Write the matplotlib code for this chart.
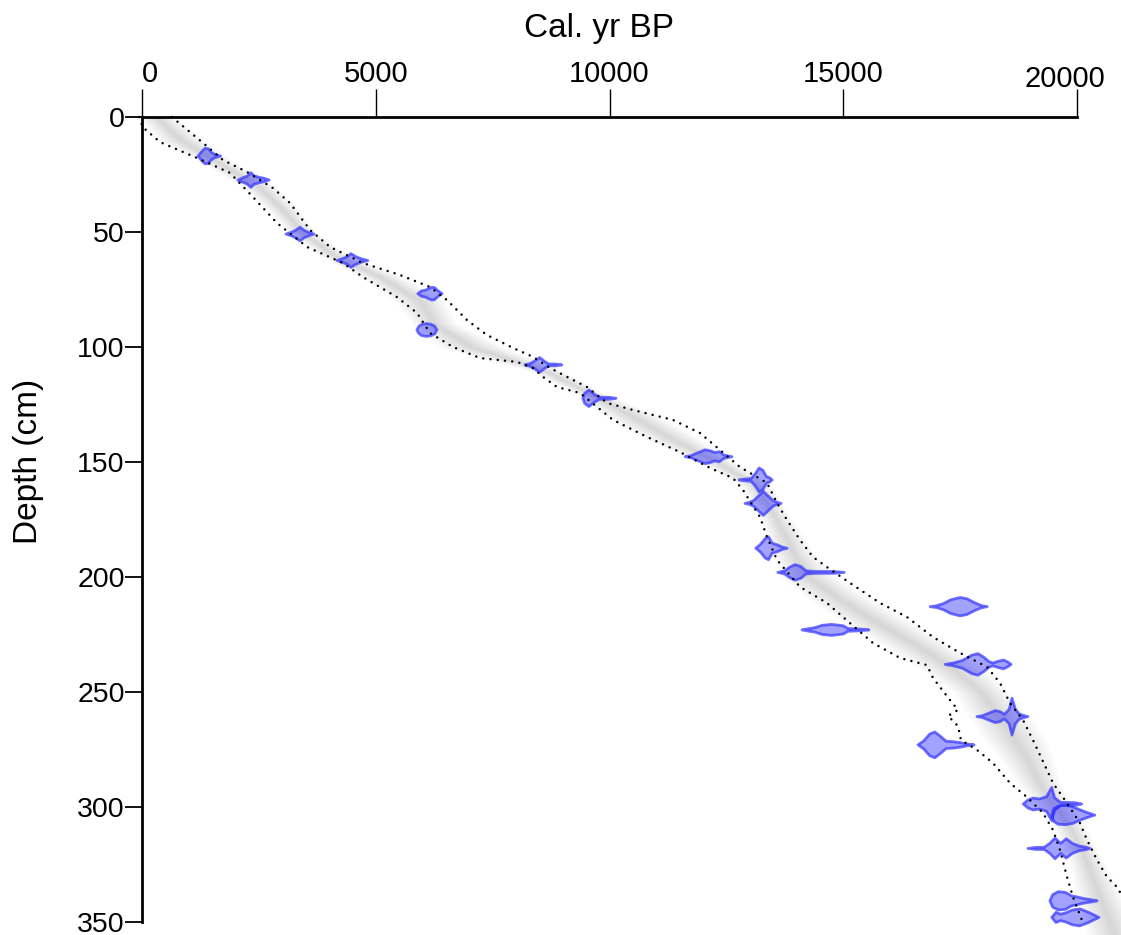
import numpy as np
import matplotlib
matplotlib.use("Agg")
import matplotlib.pyplot as plt
from matplotlib.transforms import blended_transform_factory

plt.rcParams["font.family"] = ["Liberation Sans", "DejaVu Sans"]

# ---- age-depth model: 95% range (dotted) ----
old_bound_age = [640, 770, 1283, 1733, 2246, 2802, 3166, 3594, 4021, 4727, 5519, 6160, 6524,
                 6952, 7380, 7936, 8364, 8727, 9091, 9519, 9947, 10503, 11358, 11936, 12364,
                 12792, 13369, 13583, 13797, 14075, 14353, 14652, 15144, 15786, 16363, 16919,
                 17497, 18075, 18353, 18567, 18845, 19058, 19358, 19486, 19786, 20064, 20214,
                 20428, 20642, 20856, 21350]
old_bound_depth = [0, 2.2, 10.9, 18.7, 23.9, 30.9, 37.4, 49.1, 56.5, 63.5, 68.7, 73.9, 79.6,
                   88.3, 94.8, 100.4, 104.3, 109.1, 113.0, 117.4, 124.3, 127.4, 131.7, 137.4, 144.8,
                   152.2, 159.1, 167.8, 175.2, 183.9, 191.3, 195.7, 202.6, 211.3, 217.4, 226.1,
                   233.0, 239.1, 246.1, 254.8, 262.2, 270.9, 283.9, 289.6, 298.3, 307.0, 314.3,
                   323.0, 330.4, 334.8, 352.0]

young_bound_age = [-60, 20, 385, 1176, 1882, 2374, 2888, 3529, 4299, 4727, 5454, 5882, 6160,
                   6652, 7230, 8021, 8364, 8578, 8877, 9369, 10075, 10802, 11508, 12150, 12642,
                   12856, 13219, 13369, 13583, 14075, 14652, 14994, 15636, 16214, 16791, 16920,
                   17283, 17454, 17240, 17454, 17518, 17860, 18203, 18567, 18930, 19272, 19486,
                   19636, 19786, 19914, 20128]
young_bound_depth = [0, 4.5, 10.9, 17.8, 24.3, 34.8, 46.1, 56.5, 63.5, 69.6, 78.3, 85.2, 93.9,
                     100.0, 104.8, 106.5, 109.1, 113.0, 117.4, 120.0, 131.7, 139.1, 145.7, 152.6, 157.0,
                     162.2, 173.9, 182.6, 192.6, 204.3, 211.3, 217.4, 228.7, 235.2, 238.3, 243.9,
                     253.5, 257.8, 260.4, 264.8, 270.9, 275.2, 280.9, 289.6, 295.7, 302.6, 310.0,
                     318.7, 330.4, 339.1, 350.4]

# ---- model cloud: central age and spread by depth ----
model_depth = [0, 10, 20, 30, 40, 50, 60, 70, 80, 90, 100, 110, 120, 130, 140, 150, 160, 170,
               180, 190, 200, 210, 220, 230, 240, 250, 260, 270, 280, 290, 300, 310, 320, 330,
               340, 350, 356]
model_age = [300, 840, 1650, 2480, 3000, 3420, 4100, 5150, 5950, 6250, 7050, 8600, 9560, 10480,
             11350, 12300, 13120, 13430, 13700, 13950, 14250, 14950, 15750, 16600, 17350, 17950,
             18300, 18650, 18950, 19200, 19550, 19880, 20130, 20320, 20500, 20700, 20800]
model_spread = [170, 220, 160, 170, 160, 130, 150, 210, 250, 220, 320, 160, 140, 270, 270, 170,
                160, 140, 170, 200, 280, 310, 340, 330, 320, 270, 300, 310, 260, 210, 170, 160,
                160, 190, 230, 260, 270]

# ---- calibrated dates: depth and probability outline (age, half-height in cm) ----
date_depths = [17.0, 27.4, 50.9, 62.4, 76.8, 92.6, 107.8, 122.3, 147.7, 157.8, 168.0, 187.5,
               198.0, 212.9, 223.0, 238.0, 260.7, 273.0, 298.7, 303.5, 318.0, 340.8, 348.0]
date_ages = [
    [1200, 1280, 1350, 1420, 1480, 1560, 1680],
    [2050, 2150, 2250, 2330, 2400, 2500, 2600, 2720],
    [3080, 3200, 3300, 3380, 3460, 3560, 3680],
    [4170, 4300, 4400, 4470, 4560, 4680, 4830],
    [5900, 5980, 6060, 6130, 6200, 6260, 6320, 6420],
    [5880, 5920, 5980, 6080, 6180, 6260, 6310],
    [8190, 8300, 8400, 8510, 8620, 8700, 8850, 8980],
    [9430, 9470, 9560, 9680, 9780, 10000, 10140],
    [11620, 11750, 11850, 11950, 12040, 12150, 12250, 12350, 12450, 12620],
    [12770, 12900, 13030, 13120, 13200, 13280, 13360, 13420, 13480],
    [12900, 13000, 13080, 13290, 13500, 13580, 13670],
    [13130, 13230, 13330, 13400, 13480, 13600, 13700, 13800],
    [13600, 13750, 13850, 13970, 14100, 14200, 14400, 14800, 15020],
    [16860, 17000, 17150, 17300, 17500, 17650, 17800, 17950, 18080],
    [14120, 14250, 14400, 14550, 14750, 15000, 15100, 15350, 15550],
    [17180, 17350, 17550, 17750, 17880, 18000, 18120, 18200, 18320, 18430, 18520, 18590],
    [17860, 17980, 18100, 18250, 18350, 18450, 18550, 18610, 18680, 18760, 18850, 18950],
    [16600, 16720, 16850, 16960, 17080, 17200, 17350, 17500, 17650, 17800],
    [18850, 18950, 19060, 19200, 19350, 19460, 19520, 19650, 19950, 20100],
    [19460, 19500, 19600, 19750, 19900, 20050, 20200, 20380],
    [18950, 19100, 19300, 19420, 19530, 19650, 19770, 19900, 20050, 20200, 20280],
    [19420, 19480, 19600, 19750, 19880, 20000, 20150, 20300, 20430],
    [19460, 19550, 19650, 19760, 19900, 20060, 20250, 20470],
]
date_halfheights = [
    [0, 2.0, 3.4, 3.2, 1.7, 0.7, 0],
    [0, 0.9, 1.7, 3.2, 1.8, 1.2, 0.8, 0],
    [0, 0.8, 1.8, 3.0, 1.7, 0.8, 0],
    [0, 0.9, 1.8, 3.0, 1.8, 0.8, 0],
    [0, 1.2, 1.5, 2.2, 2.8, 2.6, 1.4, 0],
    [0, 1.5, 2.4, 2.8, 2.5, 1.7, 0],
    [0, 0.6, 1.7, 3.2, 1.4, 0.4, 0.4, 0],
    [0, 2.2, 3.6, 1.7, 0.5, 0.4, 0],
    [0, 0.5, 1.4, 2.2, 3.0, 2.6, 1.8, 2.2, 0.7, 0],
    [0, 0.4, 0.6, 2.7, 5.2, 4.2, 1.4, 1.0, 0],
    [0, 0.5, 1.2, 5.2, 1.2, 0.5, 0],
    [0, 1.7, 4.2, 5.0, 2.2, 1.4, 0.5, 0],
    [0, 0.7, 2.2, 3.4, 2.5, 0.7, 0.4, 0.4, 0],
    [0, 0.4, 1.4, 3.0, 4.0, 3.4, 1.8, 0.5, 0],
    [0, 0.5, 1.0, 2.0, 2.4, 1.8, 0.6, 0.4, 0],
    [0, 0.6, 1.7, 4.0, 4.7, 3.2, 1.2, 0.6, 1.4, 1.9, 1.0, 0],
    [0, 0.4, 1.4, 2.6, 2.2, 1.0, 3.2, 8.0, 3.2, 1.2, 0.5, 0],
    [0, 1.7, 4.7, 5.6, 3.7, 1.6, 1.4, 1.0, 0.4, 0],
    [0, 1.7, 2.6, 2.2, 3.2, 7.2, 2.7, 0.7, 0.6, 0],
    [0, 2.7, 4.0, 4.2, 3.7, 2.4, 1.2, 0],
    [0, 0.4, 0.5, 2.2, 4.5, 2.2, 4.2, 2.2, 1.0, 0.5, 0],
    [0, 2.7, 4.0, 3.7, 2.2, 1.7, 1.0, 0.5, 0],
    [0, 2.2, 1.4, 2.0, 3.2, 3.7, 2.2, 0],
]

age_ticks = [0, 5000, 10000, 15000, 20000]
age_tick_labels = ["0", "5000", "10000", "15000", "20000"]
depth_ticks = [0, 50, 100, 150, 200, 250, 300, 350]

W, H = 1121, 935
fig = plt.figure(figsize=(W / 100, H / 100), dpi=100)
ax = fig.add_axes([142 / W, 0, 1 - 142 / W, 818 / H])
ax.set_xlim(0, 20941)
ax.set_ylim(355.65, 0)

# model cloud drawn as stacked translucent envelopes
md = np.array(model_depth, dtype=float)
ma = np.array(model_age, dtype=float)
ms = np.array(model_spread, dtype=float)
for k in np.linspace(2.2, 0.15, 20):
    ax.fill_betweenx(md, ma - k * ms, ma + k * ms, color="0.45", alpha=0.011, lw=0,
                     clip_on=False, zorder=1)

# calibrated date distributions
for d, ages, hh in zip(date_depths, date_ages, date_halfheights):
    a = np.array(ages, dtype=float)
    h = np.array(hh, dtype=float)
    xs = np.concatenate([a, a[::-1]])
    ys = np.concatenate([d - h, (d + h)[::-1]])
    ax.fill(xs, ys, facecolor=(0, 0, 1, 0.36), edgecolor=(0.2, 0.2, 1, 0.7),
            lw=2.0, joinstyle="round", clip_on=False, zorder=3)

# 95% range
for ages, depths in ((old_bound_age, old_bound_depth), (young_bound_age, young_bound_depth)):
    ax.plot(ages, depths, color="black", lw=1.8, linestyle=(0, (0.01, 2.9)),
            dash_capstyle="round", clip_on=False, zorder=4)

# axes styling
for side in ("right", "bottom"):
    ax.spines[side].set_visible(False)
ax.spines["top"].set_linewidth(2.0)
ax.spines["left"].set_linewidth(2.0)
ax.spines["top"].set_bounds(0, 20000)
ax.spines["left"].set_bounds(0, 350)

ax.xaxis.set_ticks_position("top")
ax.set_xticks(age_ticks)
ax.set_xticklabels([])
ax.tick_params(axis="x", direction="out", length=20, width=1.0, top=True, bottom=False)

ax.set_yticks(depth_ticks)
ax.set_yticklabels([str(v) for v in depth_ticks], fontsize=20.5)
ax.tick_params(axis="y", direction="out", length=12, width=1.3, pad=0.5)

trans = blended_transform_factory(ax.transData, ax.transAxes)
label_shift = {"0": (8, 35), "20000": (-12, 30)}
for v, lab in zip(age_ticks, age_tick_labels):
    dx, dy = label_shift.get(lab, (0, 35))
    ax.annotate(lab, xy=(v, 1), xycoords=trans, xytext=(dx, dy), textcoords="offset pixels",
                ha="center", va="baseline", fontsize=21, annotation_clip=False)

fig.text(599 / W, 1 - 37 / H, "Cal. yr BP", fontsize=24, ha="center", va="baseline")
fig.text(37 / W, 1 - 461 / H, "Depth (cm)", fontsize=24, ha="center", va="baseline",
         rotation=90, rotation_mode="anchor")

fig.savefig("out.png", dpi=100)
